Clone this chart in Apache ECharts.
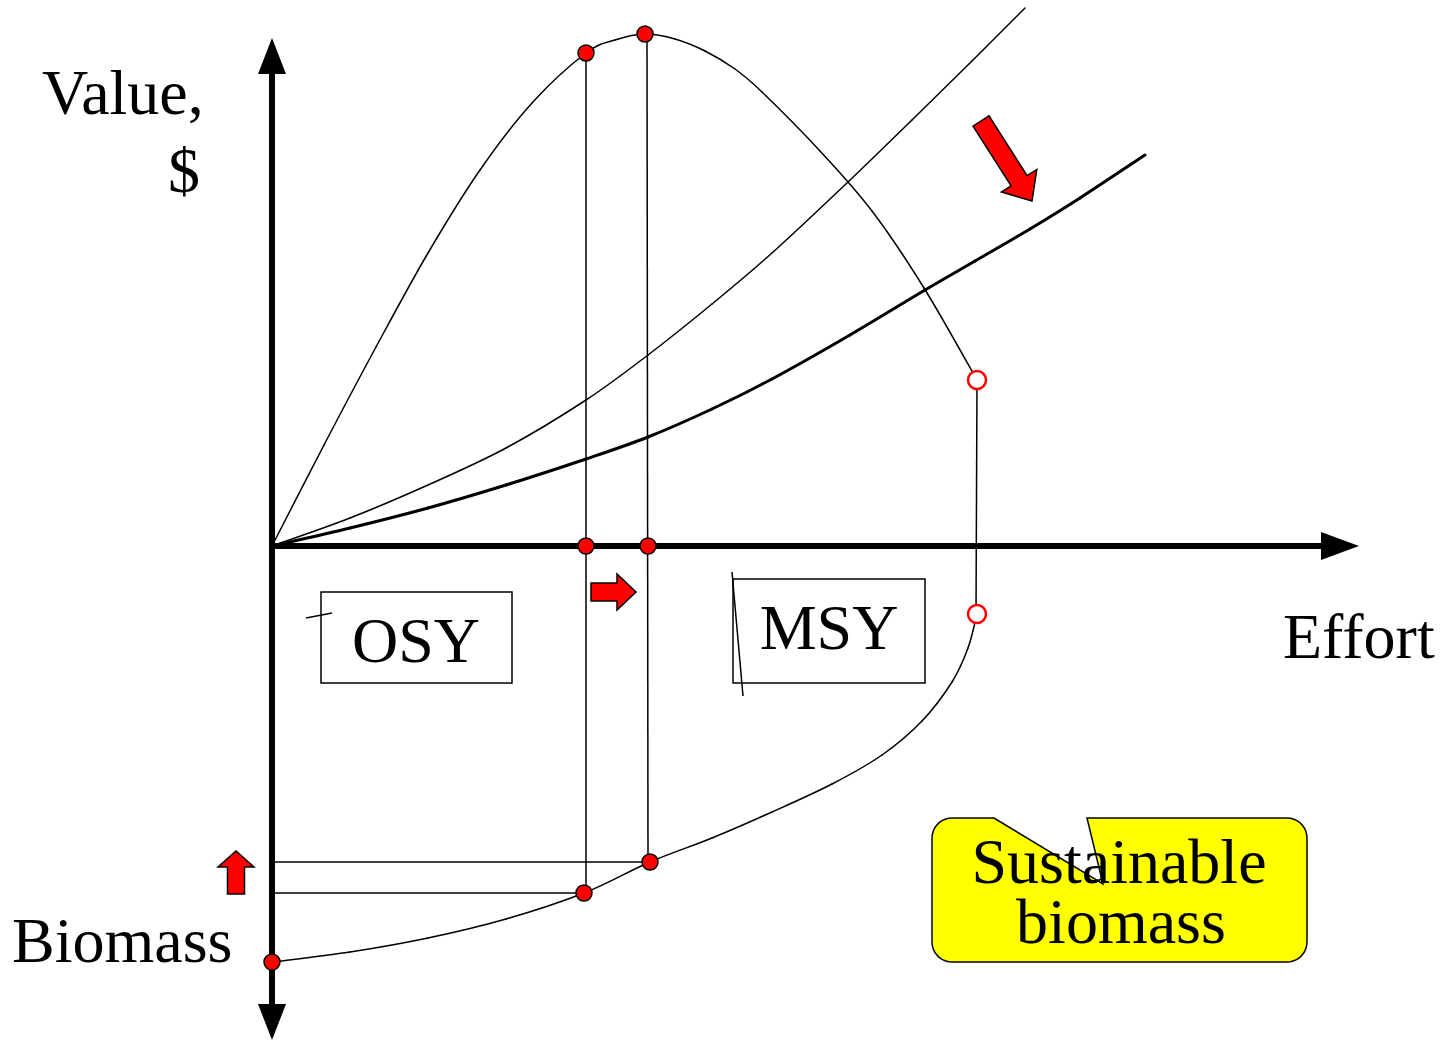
<!DOCTYPE html>
<html><head><meta charset="utf-8">
<script src="https://cdn.jsdelivr.net/npm/echarts@6/dist/echarts.min.js"></script>
<style>html,body{margin:0;padding:0;background:#fff}#c{width:1441px;height:1041px}</style>
</head><body><div id="c"></div>
<script>
// ---- data (arbitrary units: effort on x, value (+) / biomass (-) on y) ----
const X_MAX = 1068, Y_MIN = -476, Y_MAX = 490;

const yieldCurve = [[0,0],[52,101],[104,199],[156,293],[208,376],[260,443],[314,493],[343,506],[373,512],[403,507],[433,495],[463,477],[490,454],[548,395],[600,335],[652,258],[705,166]];
const costThin = [[0,0],[78,28],[156,61],[234,98],[314,146],[376,191],[440,242],[500,293],[576,364],[640,426],[700,485],[753,538]];
const costThick = [[0,0],[78,18],[156,38],[234,61],[314,87],[376,109],[440,137],[500,167],[578,211],[653,256],[703,285],[758,317],[808,348],[873,391]];
const biomassCurve = [[0,-416],[78,-406],[156,-392],[234,-373],[312,-347],[378,-316],[440,-292],[500,-266],[560,-238],[610,-209],[650,-175],[680,-136],[696,-102],[705,-68]];

const redDots = [[314,493],[373,512],[314,0],[376,0],[378,-316],[312,-347],[0,-416]];
const openDots = [[705,166],[705,-68]];

const guideSegments = [[314,493,314,-347],[375,512,376,-316],[0,-316,378,-316],[0,-347,312,-347],[705,166,704,-68],[34,-72,60,-67],[460,-26,471,-150]];
const boxRects = [[49,-46,240,-137],[461,-33,653,-137]];

const calloutRect = [660,-272,1035,-416];
const calloutNotch = [[722,-272],[831,-338],[815,-272]];

const arrowTailTip = [[709,425,760,345],[319,-46,364,-46],[-36,-348,-36,-305]];

const labelText = ['Value,', '$', 'Biomass', 'Effort', 'OSY', 'MSY', 'Sustainable', 'biomass'];
const labelPos = [[-230,449],[-72,371],[-260,-399],[1011,-95],[144,-99],[557,-86],[847,-320],[849,-380]];
const labelAlign = ['left','right','left','left','center','center','center','center'];

// ---- styling constants ----
const arrowDims = [[19,42,24],[18,36,19],[17,36,16]]; // shaft width, head width, head length (px)
const FONT = '"Liberation Serif","Times New Roman",serif';

const chart = echarts.init(document.getElementById('c'), null, {renderer:'canvas'});

function arcPts(cx, cy, r, a0, a1) {
  const out = [];
  for (let i = 0; i <= 9; i++) {
    const a = (a0 + (a1 - a0) * i / 9) * Math.PI / 180;
    out.push([cx + r * Math.cos(a), cy + r * Math.sin(a)]);
  }
  return out;
}

// smooth curve through the data points (Catmull-Rom -> cubic Bezier, in pixel space)
function curveSeries(points, width) {
  return {
    type:'custom', z:3, silent:true, clip:false, data:points,
    renderItem:function(params, api){
      const i = params.dataIndex, n = points.length;
      if (i >= n - 1) return null;
      const P = k => api.coord(points[Math.max(0, Math.min(n - 1, k))]);
      const p0 = P(i - 1), p1 = P(i), p2 = P(i + 1), p3 = P(i + 2);
      return {type:'bezierCurve',
        shape:{x1:p1[0], y1:p1[1], x2:p2[0], y2:p2[1],
               cpx1:p1[0] + (p2[0] - p0[0]) / 6, cpy1:p1[1] + (p2[1] - p0[1]) / 6,
               cpx2:p2[0] - (p3[0] - p1[0]) / 6, cpy2:p2[1] - (p3[1] - p1[1]) / 6},
        style:{fill:'none', stroke:'#000', lineWidth:width, lineCap:'round'}};
    }
  };
}

const option = {
  animation:false,
  backgroundColor:'#fff',
  grid:{left:272, right:101, top:56, bottom:19, containLabel:false},
  xAxis:{type:'value', min:0, max:X_MAX,
    axisLine:{show:true, onZero:true, symbol:['none','triangle'], symbolSize:[28,38], lineStyle:{color:'#000', width:6}},
    axisTick:{show:false}, axisLabel:{show:false}, splitLine:{show:false}},
  yAxis:{type:'value', min:Y_MIN, max:Y_MAX,
    axisLine:{show:true, symbol:['triangle','triangle'], symbolSize:[28,36], lineStyle:{color:'#000', width:6}},
    axisTick:{show:false}, axisLabel:{show:false}, splitLine:{show:false}},
  series:[
    // callout
    {type:'custom', z:1, silent:true, clip:false, data:[[calloutRect[0], calloutRect[1]]],
     renderItem:function(params, api){
       const tl = api.coord([calloutRect[0], calloutRect[1]]);
       const br = api.coord([calloutRect[2], calloutRect[3]]);
       const L = tl[0], T = tl[1], R = br[0], B = br[1], r = 20;
       const nA = api.coord(calloutNotch[0]), nB = api.coord(calloutNotch[1]), nC = api.coord(calloutNotch[2]);
       let pts = [[nC[0], T], [R - r, T]];
       pts = pts.concat(arcPts(R - r, T + r, r, -90, 0));
       pts = pts.concat(arcPts(R - r, B - r, r, 0, 90));
       pts = pts.concat(arcPts(L + r, B - r, r, 90, 180));
       pts = pts.concat(arcPts(L + r, T + r, r, 180, 270));
       pts.push([nA[0], T]); pts.push(nB);
       return {type:'polygon', shape:{points:pts}, style:{fill:'#ffff00', stroke:'#000', lineWidth:1.5}};
     }},
    // boxes
    {type:'custom', z:2, silent:true, clip:false, data:boxRects, encode:{x:[0,2], y:[1,3]},
     renderItem:function(params, api){
       const p1 = api.coord([api.value(0), api.value(1)]);
       const p2 = api.coord([api.value(2), api.value(3)]);
       return {type:'rect', shape:{x:p1[0], y:p1[1], width:p2[0]-p1[0], height:p2[1]-p1[1]},
               style:{fill:'none', stroke:'#000', lineWidth:1.5}};
     }},
    // guide segments
    {type:'custom', z:2, silent:true, clip:false, data:guideSegments, encode:{x:[0,2], y:[1,3]},
     renderItem:function(params, api){
       const p1 = api.coord([api.value(0), api.value(1)]);
       const p2 = api.coord([api.value(2), api.value(3)]);
       return {type:'line', shape:{x1:p1[0], y1:p1[1], x2:p2[0], y2:p2[1]},
               style:{stroke:'#000', lineWidth:1.5}};
     }},
    curveSeries(yieldCurve, 1.5),
    curveSeries(costThin, 1.5),
    curveSeries(costThick, 3),
    curveSeries(biomassCurve, 1.5),
    // red block arrows
    {type:'custom', z:4, silent:true, clip:false, data:arrowTailTip, encode:{x:[0,2], y:[1,3]},
     renderItem:function(params, api){
       const t = api.coord([api.value(0), api.value(1)]);
       const p = api.coord([api.value(2), api.value(3)]);
       const dm = arrowDims[params.dataIndex];
       const len = Math.hypot(p[0]-t[0], p[1]-t[1]);
       const dx = (p[0]-t[0])/len, dy = (p[1]-t[1])/len;
       const nx = -dy, ny = dx;
       const bx = p[0] - dx*dm[2], by = p[1] - dy*dm[2];
       const s = dm[0]/2, h = dm[1]/2;
       const pts = [[t[0]+nx*s, t[1]+ny*s],[bx+nx*s, by+ny*s],[bx+nx*h, by+ny*h],[p[0],p[1]],
                    [bx-nx*h, by-ny*h],[bx-nx*s, by-ny*s],[t[0]-nx*s, t[1]-ny*s]];
       return {type:'polygon', shape:{points:pts}, style:{fill:'#ff0000', stroke:'#000', lineWidth:1.5, lineJoin:'miter'}};
     }},
    // dots
    {type:'scatter', z:5, silent:true, clip:false, data:redDots, symbol:'circle', symbolSize:16,
     itemStyle:{color:'#ff0000', borderColor:'#000', borderWidth:1.5, opacity:1}},
    {type:'scatter', z:5, silent:true, clip:false, data:openDots, symbol:'circle', symbolSize:18,
     itemStyle:{color:'#fff', borderColor:'#ff0000', borderWidth:2.5, opacity:1}},
    // labels
    {type:'custom', z:6, silent:true, clip:false, data:labelPos,
     renderItem:function(params, api){
       const p = api.coord([api.value(0), api.value(1)]);
       return {type:'text', x:p[0], y:p[1],
               style:{text:labelText[params.dataIndex], fill:'#000', fontSize:64, fontFamily:FONT,
                      align:labelAlign[params.dataIndex], verticalAlign:'middle'}};
     }}
  ]
};
chart.setOption(option);
</script>
</body></html>
